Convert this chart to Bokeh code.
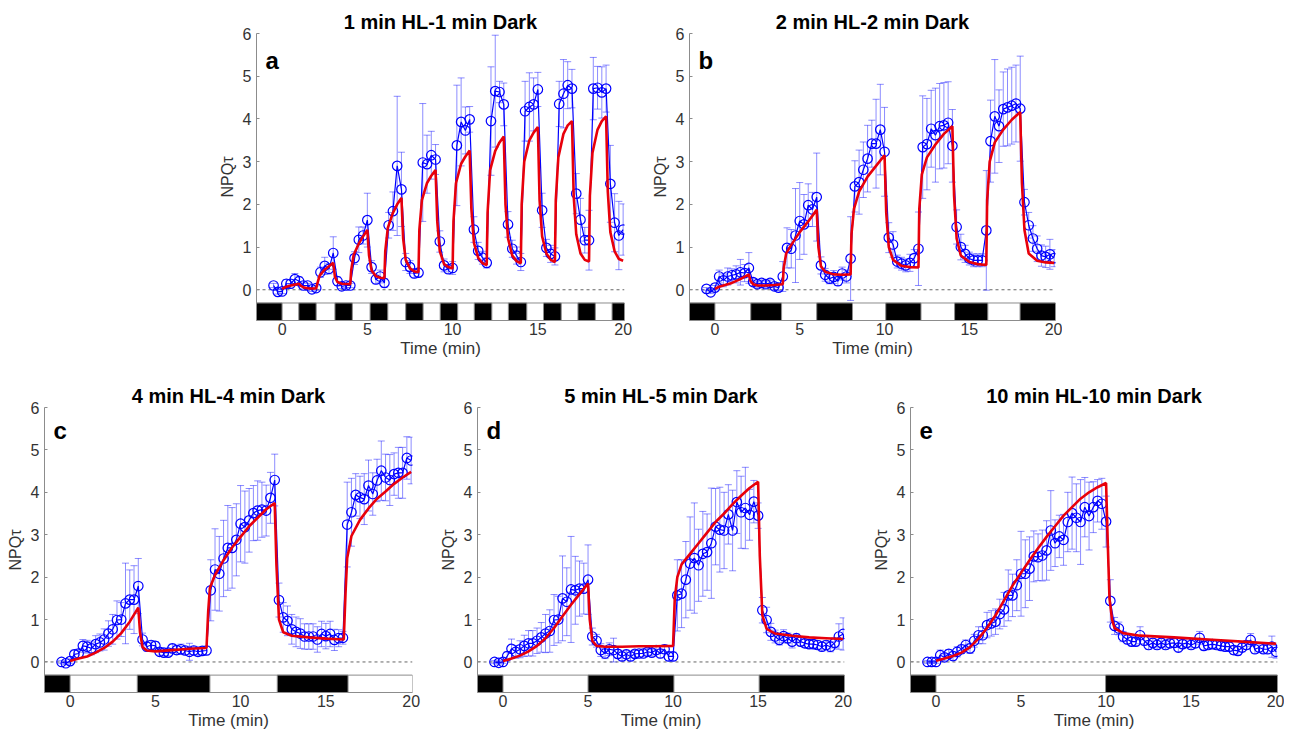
from bokeh.plotting import figure
from bokeh.layouts import column, row
from bokeh.models import (Range1d, FixedTicker, Label, Span, Whisker, TeeHead,
                          ColumnDataSource, Spacer)
from bokeh.embed import file_html
from bokeh.resources import INLINE

FONT = "Liberation Sans"

# ---------------- data ----------------
T = [-0.5, -0.25, 0,
     0.25, 0.5, 0.75, 1, 1.25, 1.5, 1.75, 2,
     2.25, 2.5, 2.75, 3, 3.25, 3.5, 3.75, 4,
     4.25, 4.5, 4.75, 5, 5.25, 5.5, 5.75, 6,
     6.25, 6.5, 6.75, 7, 7.25, 7.5, 7.75, 8,
     8.25, 8.5, 8.75, 9, 9.25, 9.5, 9.75, 10,
     10.25, 10.5, 10.75, 11, 11.25, 11.5, 11.75, 12,
     12.25, 12.5, 12.75, 13, 13.25, 13.5, 13.75, 14,
     14.25, 14.5, 14.75, 15, 15.25, 15.5, 15.75, 16,
     16.25, 16.5, 16.75, 17, 17.25, 17.5, 17.75, 18,
     18.25, 18.5, 18.75, 19, 19.25, 19.5, 19.75, 20]

# panel a : 1 min HL - 1 min Dark
a_y = [0.10, -0.05, -0.04,
       0.14, 0.14, 0.25, 0.20, 0.10, 0.10, 0.01, 0.04,
       0.41, 0.56, 0.49, 0.86, 0.20, 0.08, 0.10, 0.10,
       0.74, 1.17, 1.27, 1.63, 0.53, 0.24, 0.31, 0.16,
       1.51, 1.84, 2.90, 2.35, 0.65, 0.53, 0.38, 0.40,
       2.98, 2.94, 3.15, 3.05, 1.13, 0.57, 0.48, 0.51,
       3.38, 3.93, 3.73, 3.99, 1.41, 0.91, 0.75, 0.63,
       3.95, 4.65, 4.63, 4.34, 1.53, 0.96, 0.80, 0.65,
       4.18, 4.28, 4.34, 4.69, 1.86, 0.98, 0.84, 0.78,
       4.35, 4.59, 4.79, 4.71, 2.25, 1.64, 1.16, 1.16,
       4.71, 4.73, 4.62, 4.71, 2.48, 1.57, 1.27, 1.41]
a_err = [0.05, 0.05, 0.05,
         0.10, 0.10, 0.13, 0.10, 0.08, 0.05, 0.05, 0.05,
         0.12, 0.20, 0.12, 0.38, 0.10, 0.05, 0.05, 0.05,
         0.15, 0.30, 0.20, 0.63, 0.15, 0.10, 0.15, 0.10,
         0.30, 0.45, 1.63, 0.87, 0.20, 0.15, 0.10, 0.10,
         1.38, 0.68, 0.56, 0.35, 0.25, 0.15, 0.10, 0.15,
         1.41, 1.03, 0.55, 0.30, 0.30, 0.20, 0.15, 0.12,
         1.27, 1.31, 0.25, 0.50, 0.30, 0.20, 0.20, 0.20,
         0.70, 0.80, 0.62, 0.40, 0.40, 0.20, 0.20, 0.20,
         0.53, 0.80, 0.55, 0.45, 0.47, 0.50, 0.30, 0.70,
         0.73, 0.50, 0.60, 0.55, 0.90, 0.68, 0.80, 0.60]
a_mt = [0, 0.25, 0.5, 0.75, 1.0, 1.1, 1.3, 1.6, 2.0,
        2.05, 2.2, 2.5, 2.75, 3.0, 3.1, 3.25, 3.5, 4.0,
        4.05, 4.2, 4.5, 4.75, 5.0, 5.1, 5.25, 5.5, 5.75, 6.0,
        6.05, 6.2, 6.5, 6.75, 7.0, 7.1, 7.25, 7.5, 7.75, 8.0,
        8.05, 8.2, 8.5, 8.75, 9.0, 9.1, 9.25, 9.5, 9.75, 10.0,
        10.05, 10.2, 10.5, 10.75, 11.0, 11.1, 11.25, 11.5, 11.75, 12.0,
        12.05, 12.2, 12.5, 12.75, 13.0, 13.1, 13.25, 13.5, 13.75, 14.0,
        14.05, 14.2, 14.5, 14.75, 15.0, 15.1, 15.25, 15.5, 15.75, 16.0,
        16.05, 16.2, 16.5, 16.75, 17.0, 17.1, 17.25, 17.5, 17.75, 18.0,
        18.05, 18.2, 18.5, 18.75, 19.0, 19.1, 19.25, 19.5, 19.75, 20.0]
a_my = [0.02, 0.07, 0.10, 0.12, 0.14, 0.09, 0.05, 0.03, 0.03,
        0.12, 0.33, 0.47, 0.55, 0.63, 0.30, 0.18, 0.14, 0.13,
        0.45, 0.82, 1.08, 1.25, 1.40, 0.80, 0.45, 0.32, 0.28, 0.27,
        0.90, 1.45, 1.80, 2.00, 2.15, 1.20, 0.70, 0.50, 0.43, 0.41,
        1.40, 2.10, 2.50, 2.67, 2.80, 1.60, 0.90, 0.60, 0.53, 0.50,
        1.60, 2.50, 2.95, 3.12, 3.26, 1.90, 1.10, 0.75, 0.62, 0.58,
        1.80, 2.80, 3.25, 3.45, 3.59, 2.00, 1.20, 0.80, 0.67, 0.62,
        2.00, 3.00, 3.50, 3.68, 3.81, 2.10, 1.25, 0.85, 0.70, 0.65,
        2.10, 3.10, 3.65, 3.85, 3.95, 2.20, 1.30, 0.85, 0.70, 0.66,
        2.20, 3.20, 3.75, 3.95, 4.06, 2.30, 1.35, 0.90, 0.72, 0.68]
a_dark_l = [-1.5, 0.98, 3.10, 5.16, 7.25, 9.27, 11.27, 13.27, 15.33, 17.35, 19.35]
a_dark_r = [0.0, 2.00, 4.12, 6.20, 8.27, 10.30, 12.30, 14.35, 16.37, 18.37, 20.08]

# panel b : 2 min HL - 2 min Dark
b_y = [0.02, -0.06, 0.05,
       0.31, 0.22, 0.31, 0.34, 0.36, 0.41, 0.39, 0.51,
       0.18, 0.13, 0.16, 0.13, 0.16, 0.08, 0.05, 0.31,
       0.98, 0.96, 1.27, 1.61, 1.53, 1.98, 1.88, 2.17,
       0.57, 0.35, 0.26, 0.30, 0.20, 0.38, 0.31, 0.73,
       2.42, 2.52, 2.81, 3.07, 3.42, 3.42, 3.75, 3.23,
       1.22, 1.06, 0.66, 0.61, 0.57, 0.63, 0.74, 0.96,
       3.34, 3.41, 3.77, 3.62, 3.83, 3.85, 3.91, 3.37,
       1.47, 1.00, 0.84, 0.73, 0.69, 0.69, 0.69, 1.39,
       3.48, 4.06, 3.83, 4.23, 4.27, 4.31, 4.36, 4.24,
       2.05, 1.51, 1.20, 0.96, 0.80, 0.77, 0.83, 0.74]
b_err = [0.03, 0.03, 0.05,
         0.15, 0.15, 0.20, 0.15, 0.20, 0.30, 0.20, 0.36,
         0.08, 0.07, 0.07, 0.07, 0.07, 0.07, 0.07, 0.35,
         0.47, 0.45, 1.10, 0.90, 0.70, 0.50, 0.40, 1.03,
         0.20, 0.15, 0.12, 0.15, 0.10, 0.15, 0.15, 0.98,
         0.60, 0.75, 0.65, 0.78, 0.55, 1.04, 1.06, 1.04,
         0.35, 0.30, 0.15, 0.15, 0.15, 0.20, 0.20, 0.86,
         1.20, 1.07, 0.90, 1.10, 1.00, 1.00, 0.96, 0.85,
         0.40, 0.30, 0.20, 0.15, 0.15, 0.15, 0.15, 1.40,
         0.96, 1.33, 0.85, 0.87, 0.90, 0.90, 0.90, 1.23,
         0.30, 0.30, 0.30, 0.30, 0.25, 0.25, 0.35, 0.20]
b_mt = [0, 0.25, 0.5, 1.0, 1.5, 2.0, 2.1, 2.25, 2.5, 3.0, 3.5, 4.0,
        4.05, 4.2, 4.5, 5.0, 5.5, 6.0, 6.1, 6.25, 6.5, 7.0, 7.5, 8.0,
        8.05, 8.2, 8.5, 9.0, 9.5, 10.0, 10.1, 10.25, 10.5, 11.0, 11.5, 12.0,
        12.05, 12.2, 12.5, 13.0, 13.5, 14.0, 14.1, 14.25, 14.5, 15.0, 15.5, 16.0,
        16.05, 16.2, 16.5, 17.0, 17.5, 18.0, 18.1, 18.25, 18.5, 19.0, 19.5, 20.0]
b_my = [0.02, 0.07, 0.10, 0.16, 0.25, 0.36, 0.20, 0.13, 0.10, 0.10, 0.11, 0.13,
        0.50, 0.85, 1.05, 1.35, 1.60, 1.87, 1.00, 0.55, 0.42, 0.36, 0.35, 0.36,
        1.30, 1.90, 2.30, 2.65, 2.90, 3.15, 1.80, 1.00, 0.70, 0.56, 0.53, 0.52,
        1.90, 2.70, 3.10, 3.40, 3.65, 3.83, 2.20, 1.20, 0.80, 0.65, 0.60, 0.58,
        2.10, 3.00, 3.45, 3.75, 3.98, 4.16, 2.50, 1.40, 0.85, 0.68, 0.64, 0.63]
b_dark_l = [-1.5, 2.11, 6.00, 10.07, 14.13, 17.99]
b_dark_r = [0.0, 3.93, 8.11, 12.15, 16.09, 20.08]

# panel c : 4 min HL - 4 min Dark
c_y = [0.00, -0.03, 0.02,
       0.18, 0.20, 0.38, 0.36, 0.32, 0.42, 0.46, 0.53,
       0.67, 0.77, 0.99, 1.00, 1.38, 1.47, 1.47, 1.79,
       0.53, 0.36, 0.40, 0.38, 0.24, 0.22, 0.22, 0.32,
       0.28, 0.30, 0.27, 0.24, 0.27, 0.24, 0.26, 0.27,
       1.69, 2.18, 2.08, 2.44, 2.69, 2.69, 2.88, 3.26,
       3.18, 3.34, 3.51, 3.57, 3.59, 3.57, 3.87, 4.29,
       1.46, 1.05, 0.97, 0.77, 0.71, 0.67, 0.60, 0.60,
       0.60, 0.53, 0.66, 0.61, 0.66, 0.52, 0.56, 0.57,
       3.24, 3.53, 3.94, 3.88, 3.84, 4.16, 3.96, 4.28,
       4.51, 4.35, 4.29, 4.43, 4.46, 4.46, 4.81, 4.75]
c_err = [0.03, 0.03, 0.05,
         0.10, 0.10, 0.15, 0.15, 0.15, 0.20, 0.20, 0.25,
         0.30, 0.35, 0.45, 0.40, 0.95, 0.70, 0.80, 0.65,
         0.15, 0.10, 0.10, 0.10, 0.08, 0.08, 0.08, 0.10,
         0.10, 0.12, 0.10, 0.20, 0.10, 0.10, 0.10, 0.10,
         0.72, 0.96, 0.88, 0.90, 1.00, 0.95, 0.85, 0.90,
         0.85, 0.75, 0.65, 0.70, 0.65, 0.60, 0.60, 0.61,
         0.40, 0.35, 0.35, 0.35, 0.35, 0.35, 0.30, 0.30,
         0.30, 0.30, 0.30, 0.30, 0.30, 0.25, 0.20, 0.15,
         1.00, 0.80, 0.50, 0.50, 0.60, 0.60, 0.50, 0.50,
         0.70, 0.55, 0.60, 0.50, 0.60, 0.60, 0.50, 0.55]
c_mt = [0, 0.5, 1.0, 1.5, 2.0, 2.5, 3.0, 3.5, 4.0,
        4.1, 4.25, 4.5, 5.0, 6.0, 7.0, 8.0,
        8.1, 8.2, 8.5, 9.0, 9.5, 10.0, 10.5, 11.0, 11.5, 12.0,
        12.1, 12.25, 12.5, 13.0, 14.0, 15.0, 16.05,
        16.15, 16.25, 16.5, 17.0, 17.5, 18.0, 18.5, 19.0, 19.5, 20.0]
c_my = [0.02, 0.08, 0.13, 0.22, 0.33, 0.48, 0.68, 0.95, 1.28,
        0.70, 0.35, 0.27, 0.25, 0.28, 0.31, 0.33,
        1.20, 1.75, 2.05, 2.40, 2.70, 2.95, 3.20, 3.40, 3.60, 3.75,
        2.30, 1.00, 0.70, 0.62, 0.58, 0.55, 0.53,
        1.60, 2.45, 2.97, 3.35, 3.62, 3.85, 4.02, 4.20, 4.35, 4.48]
c_dark_l = [-1.5, 3.94, 12.15]
c_dark_r = [0.0, 8.20, 16.30]

# panel d : 5 min HL - 5 min Dark
d_y = [0.00, -0.02, 0.00,
       0.14, 0.31, 0.24, 0.30, 0.38, 0.44, 0.44, 0.50,
       0.58, 0.67, 0.73, 0.99, 1.00, 1.50, 1.42, 1.71,
       1.69, 1.73, 1.73, 1.94, 0.60, 0.50, 0.28, 0.20,
       0.30, 0.28, 0.19, 0.13, 0.18, 0.13, 0.19, 0.20,
       0.20, 0.24, 0.22, 0.28, 0.20, 0.30, 0.13, 0.13,
       1.57, 1.61, 1.94, 2.32, 2.45, 2.28, 2.55, 2.59,
       2.80, 3.19, 3.12, 3.10, 3.48, 3.10, 3.77, 3.53,
       3.63, 3.47, 3.78, 3.45, 1.22, 0.99, 0.71, 0.60,
       0.52, 0.61, 0.56, 0.48, 0.56, 0.48, 0.44, 0.42,
       0.42, 0.40, 0.36, 0.40, 0.36, 0.45, 0.60, 0.66]
d_err = [0.03, 0.03, 0.03,
         0.10, 0.23, 0.15, 0.20, 0.25, 0.30, 0.30, 0.30,
         0.35, 0.45, 0.50, 0.60, 0.55, 1.00, 0.80, 1.25,
         0.80, 0.65, 0.60, 0.82, 0.20, 0.15, 0.15, 0.12,
         0.15, 0.28, 0.10, 0.10, 0.10, 0.10, 0.08, 0.08,
         0.08, 0.08, 0.08, 0.10, 0.10, 0.10, 0.10, 0.10,
         0.84, 0.80, 0.90, 1.10, 1.30, 0.85, 1.00, 0.90,
         1.30, 0.90, 1.00, 0.90, 0.70, 0.95, 0.74, 0.85,
         0.96, 0.60, 0.50, 0.30, 0.30, 0.30, 0.20, 0.15,
         0.12, 0.15, 0.12, 0.15, 0.10, 0.10, 0.10, 0.10,
         0.10, 0.10, 0.10, 0.10, 0.12, 0.12, 0.30, 0.38]
d_mt = [0, 0.5, 1.0, 1.5, 2.0, 2.5, 3.0, 3.5, 4.0, 4.5, 5.0,
        5.1, 5.25, 5.5, 6.0, 7.0, 8.0, 9.0, 10.0,
        10.1, 10.25, 10.5, 11.0, 11.5, 12.0, 12.5, 13.0, 13.5, 14.0, 14.5, 15.0,
        15.1, 15.25, 15.5, 16.0, 17.0, 18.0, 19.0, 20.0]
d_my = [0.02, 0.08, 0.15, 0.25, 0.38, 0.56, 0.80, 1.08, 1.35, 1.60, 1.85,
        1.00, 0.50, 0.38, 0.36, 0.36, 0.37, 0.37, 0.38,
        1.50, 2.00, 2.30, 2.55, 2.80, 3.05, 3.30, 3.50, 3.72, 3.92, 4.10, 4.25,
        2.50, 1.10, 0.78, 0.67, 0.62, 0.58, 0.56, 0.54]
d_dark_l = [-1.5, 5.00, 15.06]
d_dark_r = [0.0, 10.05, 20.08]

# panel e : 10 min HL - 10 min Dark
e_y = [0.00, 0.00, 0.00,
       0.16, 0.11, 0.19, 0.14, 0.24, 0.30, 0.40, 0.32,
       0.50, 0.63, 0.63, 0.87, 0.91, 0.95, 1.13, 1.24,
       1.57, 1.57, 1.81, 2.08, 2.08, 2.20, 2.49, 2.47,
       2.51, 2.63, 3.10, 2.80, 2.96, 2.88, 3.30, 3.51,
       3.40, 3.30, 3.65, 3.44, 3.65, 3.80, 3.73, 3.31,
       1.44, 0.85, 0.79, 0.60, 0.53, 0.48, 0.48, 0.63,
       0.50, 0.40, 0.45, 0.40, 0.45, 0.40, 0.44, 0.45,
       0.34, 0.42, 0.45, 0.40, 0.44, 0.57, 0.38, 0.40,
       0.42, 0.40, 0.38, 0.36, 0.36, 0.28, 0.26, 0.34,
       0.40, 0.52, 0.30, 0.34, 0.30, 0.30, 0.36, 0.24]
e_err = [0.03, 0.03, 0.03,
         0.12, 0.08, 0.10, 0.10, 0.12, 0.10, 0.12, 0.12,
         0.15, 0.20, 0.20, 0.30, 0.30, 0.30, 0.35, 0.40,
         0.60, 0.50, 0.60, 1.00, 0.80, 0.75, 0.60, 0.55,
         0.60, 0.70, 0.94, 0.55, 0.50, 0.60, 0.70, 0.85,
         0.80, 1.00, 0.70, 0.80, 0.60, 0.50, 0.60, 0.60,
         0.50, 0.20, 0.15, 0.12, 0.10, 0.10, 0.10, 0.20,
         0.10, 0.10, 0.10, 0.10, 0.10, 0.10, 0.10, 0.10,
         0.10, 0.10, 0.10, 0.10, 0.10, 0.15, 0.10, 0.10,
         0.10, 0.10, 0.10, 0.10, 0.10, 0.10, 0.10, 0.10,
         0.10, 0.15, 0.10, 0.10, 0.10, 0.10, 0.25, 0.15]
e_mt = [0, 0.5, 1.0, 1.5, 2.0, 2.5, 3.0, 3.5, 4.0, 4.5, 5.0, 5.5, 6.0, 6.5,
        7.0, 7.5, 8.0, 8.5, 9.0, 9.5, 10.0,
        10.1, 10.2, 10.35, 10.5, 11.0, 12.0, 14.0, 16.0, 18.0, 20.0]
e_my = [0.03, 0.08, 0.14, 0.22, 0.35, 0.55, 0.80, 1.10, 1.45, 1.80, 2.10, 2.40, 2.68, 2.95,
        3.20, 3.45, 3.65, 3.85, 4.00, 4.12, 4.22,
        2.80, 1.50, 1.00, 0.80, 0.68, 0.62, 0.58, 0.53, 0.48, 0.43]
e_dark_l = [-1.5, 9.97]
e_dark_r = [0.0, 20.08]

TITLES = ["1 min HL-1 min Dark", "2 min HL-2 min Dark", "4 min HL-4 min Dark",
          "5 min HL-5 min Dark", "10 min HL-10 min Dark"]
LETTERS = ["a", "b", "c", "d", "e"]
Y_TICKS = [0, 1, 2, 3, 4, 5, 6]
X_TICKS = [0, 5, 10, 15, 20]
Y_LABEL = "NPQτ"
X_LABEL = "Time (min)"

# ---------------- style ----------------
XMIN, XMAX = -1.5, 20.08
YMIN, YMAX = -0.72, 6.0
STRIP_TOP = -0.31
BLUE = "#0000FF"
RED = "#E8000B"
GRAY = "#8c8c8c"
TXT = "#333333"


def panel(letter, title, y, err, mt, my, dl, dr, L, R, T_, B, fw, fh, letter_dy):
    p = figure(width=L + fw + R, height=T_ + fh + B,
               x_range=Range1d(XMIN, XMAX), y_range=Range1d(YMIN, YMAX),
               output_backend="svg", toolbar_location=None,
               min_border_left=L, min_border_right=R,
               min_border_top=T_, min_border_bottom=B)
    p.outline_line_color = None
    p.grid.visible = False

    # title
    p.title.text = title
    p.title.align = "center"
    p.title.text_font = FONT
    p.title.text_font_size = "20px"
    p.title.text_font_style = "bold"
    p.title.text_color = "black"
    p.title.standoff = 2

    # axes
    for ax in (p.xaxis, p.yaxis):
        ax.axis_line_color = GRAY
        ax.minor_tick_line_color = None
        ax.major_label_text_font = FONT
        ax.major_label_text_font_size = "16px"
        ax.major_label_text_color = "#333333"
        ax.axis_label_text_font = FONT
        ax.axis_label_text_font_style = "normal"
        ax.axis_label_text_color = TXT
    p.yaxis.ticker = FixedTicker(ticks=Y_TICKS)
    p.xaxis.ticker = FixedTicker(ticks=X_TICKS)
    p.yaxis.major_tick_in = 3
    p.yaxis.major_tick_out = 0
    p.yaxis.major_tick_line_color = GRAY
    p.yaxis.major_label_standoff = 5
    p.yaxis.axis_label = Y_LABEL
    p.yaxis.axis_label_text_font_size = "16px"
    p.yaxis.axis_label_standoff = 4
    p.xaxis.major_tick_line_color = None
    p.xaxis.major_label_standoff = -4
    p.xaxis.axis_label = X_LABEL
    p.xaxis.axis_label_text_font_size = "17px"
    p.xaxis.axis_label_standoff = 1

    # zero line
    p.add_layout(Span(location=0, dimension="width", line_color="#666666",
                      line_dash="3 3", line_width=1, level="underlay"))

    # light / dark strip
    p.quad(left=[XMIN], right=[XMAX], bottom=[YMIN], top=[STRIP_TOP],
           fill_color="white", line_color=GRAY, line_width=1)
    p.quad(left=dl, right=dr, bottom=[YMIN] * len(dl), top=[STRIP_TOP] * len(dl),
           fill_color="black", line_color=GRAY, line_width=1)

    # data with error bars
    lo = [v - e for v, e in zip(y, err)]
    up = [v + e for v, e in zip(y, err)]
    src = ColumnDataSource(dict(t=T, y=y, lo=lo, up=up))
    p.add_layout(Whisker(source=src, base="t", lower="lo", upper="up",
                         dimension="height", line_color=BLUE, line_alpha=0.45,
                         line_width=1,
                         upper_head=TeeHead(size=7, line_color=BLUE, line_alpha=0.45, line_width=1),
                         lower_head=TeeHead(size=7, line_color=BLUE, line_alpha=0.45, line_width=1)))
    p.line("t", "y", source=src, line_color=BLUE, line_width=1.2)
    p.scatter("t", "y", source=src, marker="circle", size=9.5, fill_color=None,
              line_color=BLUE, line_width=1.2)

    # model
    p.line(mt, my, line_color=RED, line_width=2.6)

    # panel letter
    p.add_layout(Label(x=XMIN, y=YMAX, x_offset=9, y_offset=-letter_dy, text=letter,
                       text_align="left", text_baseline="alphabetic",
                       text_font=FONT, text_font_size="24px",
                       text_font_style="bold", text_color="black"))
    return p


pa = panel("a", TITLES[0], a_y, a_err, a_mt, a_my, a_dark_l, a_dark_r,
           55, 11, 33, 50, 368, 287, 27)
pb = panel("b", TITLES[1], b_y, b_err, b_mt, b_my, b_dark_l, b_dark_r,
           54, 7, 33, 50, 366, 287, 27)
pc = panel("c", TITLES[2], c_y, c_err, c_mt, c_my, c_dark_l, c_dark_r,
           44, 10, 37, 40, 368, 285, 23)
pd = panel("d", TITLES[3], d_y, d_err, d_mt, d_my, d_dark_l, d_dark_r,
           55, 11, 37, 40, 367, 285, 23)
pe = panel("e", TITLES[4], e_y, e_err, e_mt, e_my, e_dark_l, e_dark_r,
           55, 7, 37, 40, 367, 285, 23)

layout = column(row(Spacer(width=201, height=370), pa, pb), row(pc, pd, pe))

open("out.html", "w").write(file_html(layout, INLINE))
